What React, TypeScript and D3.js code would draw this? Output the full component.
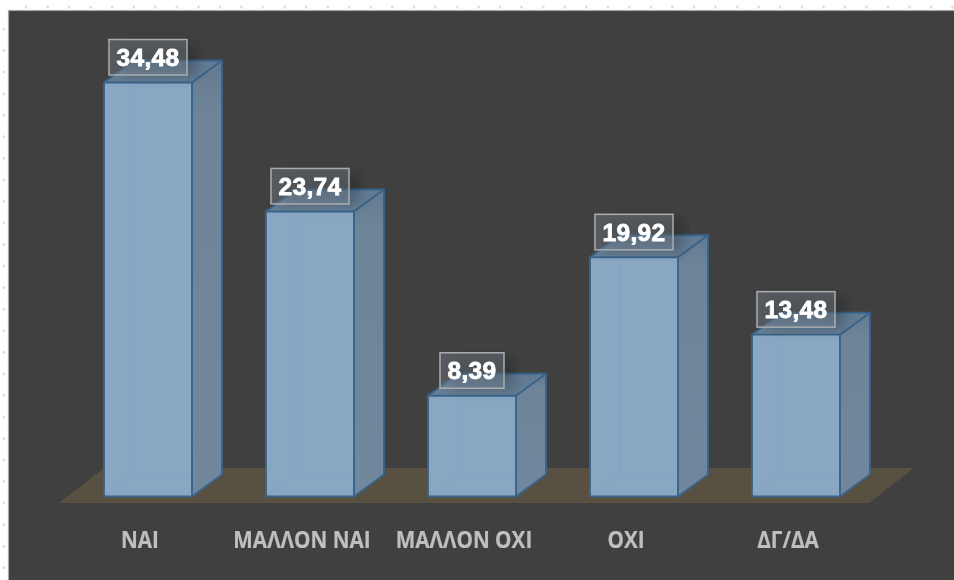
import React from "react";
import * as d3 from "d3";

const categories = ["ΝΑΙ", "ΜΑΛΛΟΝ ΝΑΙ", "ΜΑΛΛΟΝ ΟΧΙ", "ΟΧΙ", "ΔΓ/ΔΑ"];
const values = [34.48, 23.74, 8.39, 19.92, 13.48];
const valueLabels = ["34,48", "23,74", "8,39", "19,92", "13,48"];

const W = 954;
const H = 580;
const DX = 30;
const DY = -22;

const x = d3.scaleBand<string>().domain(categories).range([67, 877]).paddingInner(74 / 162).paddingOuter(37 / 162);
const y = d3.scaleLinear().domain([0, 34.48]).range([496.5, 82.5]);
const poly = (pts: [number, number][]) => (d3.line()(pts) || "") + "Z";

const topDots = d3.range(26, 954, 21.55);
const leftDots = d3.range(29, 580, 21.55);

export default function App() {
  const bw = x.bandwidth();
  const y0 = y(0);
  return (
    <svg width={W} height={H} viewBox={`0 0 ${W} ${H}`}
      style={{ position: "absolute", left: 0, top: 0, background: "#fff" }}>
      <defs>
        <filter id="shadow" x="-30%" y="-40%" width="160%" height="180%">
          <feGaussianBlur stdDeviation="6" />
        </filter>
        <filter id="soft" x="0" y="0" width="100%" height="100%">
          <feGaussianBlur stdDeviation="0.45" />
        </filter>
        <linearGradient id="topShade" x1="0" y1="1" x2="1" y2="0">
          <stop offset="0" stopColor="#687e93" />
          <stop offset="1" stopColor="#5f7a95" />
        </linearGradient>
        <linearGradient id="sideShade" x1="0" y1="0" x2="0" y2="1">
          <stop offset="0" stopColor="#62798f" />
          <stop offset="0.12" stopColor="#6d8499" />
          <stop offset="1" stopColor="#70879d" />
        </linearGradient>
      </defs>
      <g filter="url(#soft)">
        {topDots.map((d) => <circle key={"t" + d} cx={d} cy={7} r={1.5} fill="#f0d8d0" />)}
        {leftDots.map((d) => <circle key={"l" + d} cx={4} cy={d} r={1.5} fill="#f0d8d0" />)}
        <rect x={8.5} y={10.5} width={W} height={H} fill="#404040" stroke="#a6a6a6" strokeWidth={1.2} />

        {/* floor */}
        <path d={poly([[59, 503], [104, 468], [914, 468], [869, 503]])} fill="#585143" />

        {categories.map((c, i) => {
          const x0 = x(c)!;
          const x1 = x0 + bw;
          const yt = y(values[i]);
          return (
            <g key={c}>
              <rect x={x0} y={yt} width={bw} height={y0 - yt} fill="#89a6c3" />
              <path d={`M${x0 + DX},${yt} V${y0 + DY} H${x1} M${x0 + DX},${y0 + DY} L${x0},${y0}`}
                fill="none" stroke="#84a2c0" strokeWidth={1} />
              <path d={poly([[x1, yt], [x1 + DX, yt + DY], [x1 + DX, y0 + DY], [x1, y0]])} fill="url(#sideShade)" />
              <path d={poly([[x0, yt], [x0 + DX, yt + DY], [x1 + DX, yt + DY], [x1, yt]])} fill="url(#topShade)" />
              <path d={poly([[x0, yt], [x0 + DX, yt + DY], [x1 + DX, yt + DY], [x1 + DX, y0 + DY], [x1, y0], [x0, y0]])}
                fill="none" stroke="#3a6489" strokeWidth={1.9} strokeLinejoin="round" />
              <path d={`M${x0},${yt} H${x1} V${y0} M${x1},${yt} L${x1 + DX},${yt + DY}`}
                fill="none" stroke="#3a6489" strokeWidth={1.9} />
            </g>
          );
        })}

        {categories.map((c, i) => {
          const cx = x(c)! + bw / 2;
          const yt = y(values[i]);
          const bwLabel = valueLabels[i].length > 4 ? 78 : 64;
          return (
            <g key={c + "-label"}>
              <rect x={cx - bwLabel / 2 + 10} y={yt - 38} width={bwLabel} height={32} fill="#000" opacity={0.2} filter="url(#shadow)" />
              <rect x={cx - bwLabel / 2} y={yt - 43} width={bwLabel} height={35.5}
                fill="#8a96a1" fillOpacity={0.32} stroke="#a9adb0" strokeWidth={1.5} />
              <text x={cx} y={yt - 16.5} textAnchor="middle" fontFamily="'Liberation Sans', Arial, sans-serif"
                fontWeight={700} fontSize={24.5} letterSpacing={0.3} fill="#fff" stroke="#fff" strokeWidth={0.8}>
                {valueLabels[i]}
              </text>
            </g>
          );
        })}

        {categories.map((c) => (
          <text key={c + "-cat"} transform={`translate(${x(c)! + bw / 2 - 8},548) scale(0.9,1)`} textAnchor="middle"
            fontFamily="'Open Sans', 'Noto Sans', sans-serif" fontWeight={700} fontSize={23} fill="#bfbfbf" stroke="#bfbfbf" strokeWidth={0.2}>
            {c}
          </text>
        ))}
      </g>
    </svg>
  );
}
